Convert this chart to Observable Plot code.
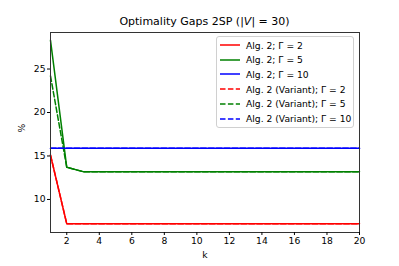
<!DOCTYPE html>
<html><head><meta charset="utf-8">
<script src="https://cdn.jsdelivr.net/npm/d3@7"></script>
<script src="https://cdn.jsdelivr.net/npm/@observablehq/plot@0.6"></script>
<style>
body{margin:0;background:#fff;font-family:"DejaVu Sans",sans-serif;}
#wrap{position:relative;width:399px;height:266px;}
#legend{position:absolute;left:216px;top:36px;width:136px;height:90px;border:1px solid #d0d0d0;border-radius:3px;background:rgba(255,255,255,0.8);font-size:9.2px;color:#000;}
.row{position:absolute;left:0;height:14px;display:flex;align-items:center;white-space:nowrap;}
.row svg{margin-left:3px;margin-right:6px;}
</style></head>
<body><div id="wrap"><div id="legend"></div></div>
<script>
const k = [1,2,3,4,5,6,7,8,9,10,11,12,13,14,15,16,17,18,19,20];
const alg2_g2  = [15.1,7.2,7.2,7.2,7.2,7.2,7.2,7.2,7.2,7.2,7.2,7.2,7.2,7.2,7.2,7.2,7.2,7.2,7.2,7.2];
const alg2_g5  = [28.3,13.7,13.2,13.2,13.2,13.2,13.2,13.2,13.2,13.2,13.2,13.2,13.2,13.2,13.2,13.2,13.2,13.2,13.2,13.2];
const alg2_g10 = [15.9,15.9,15.9,15.9,15.9,15.9,15.9,15.9,15.9,15.9,15.9,15.9,15.9,15.9,15.9,15.9,15.9,15.9,15.9,15.9];
const var_g2   = [15.1,7.2,7.2,7.2,7.2,7.2,7.2,7.2,7.2,7.2,7.2,7.2,7.2,7.2,7.2,7.2,7.2,7.2,7.2,7.2];
const var_g5   = [24.2,13.7,13.2,13.2,13.2,13.2,13.2,13.2,13.2,13.2,13.2,13.2,13.2,13.2,13.2,13.2,13.2,13.2,13.2,13.2];
const var_g10  = [15.9,15.9,15.9,15.9,15.9,15.9,15.9,15.9,15.9,15.9,15.9,15.9,15.9,15.9,15.9,15.9,15.9,15.9,15.9,15.9];
const seriesNames = ["Alg. 2; Γ = 2","Alg. 2; Γ = 5","Alg. 2; Γ = 10","Alg. 2 (Variant); Γ = 2","Alg. 2 (Variant); Γ = 5","Alg. 2 (Variant); Γ = 10"];
const seriesValues = [alg2_g2, alg2_g5, alg2_g10, var_g2, var_g5, var_g10];
const seriesColors = ["#ff0000","#008000","#0000ff","#ff0000","#008000","#0000ff"];
const seriesDashed = [false,false,false,true,true,true];
const xTicks = [2,4,6,8,10,12,14,16,18,20];
const yTicks = [10,15,20,25];

const marks = [];
seriesValues.forEach((vals,i)=>{
  const data = k.map((kk,j)=>({k:kk,v:vals[j]}));
  marks.push(Plot.line(data,{x:"k",y:"v",stroke:seriesColors[i],strokeWidth:1.5,strokeDasharray:seriesDashed[i]?"5.5,2.4":null}));
});
marks.push(Plot.frame({stroke:"#333",strokeWidth:1}));
marks.push(Plot.axisX({ticks:xTicks,tickSize:3,tickPadding:2,fontSize:9.2,label:null}));
marks.push(Plot.axisY({ticks:yTicks,tickSize:3,tickPadding:2,fontSize:9.2,label:null}));
marks.push(Plot.text(["k"],{frameAnchor:"bottom",dy:25,fontSize:9.2,textAnchor:"middle"}));
marks.push(Plot.text(["%"],{frameAnchor:"left",dx:-28,rotate:-90,fontSize:9.2}));

const svg = Plot.plot({
  width:399,height:266,
  marginLeft:50,marginRight:40,marginTop:32,marginBottom:34,
  x:{domain:[1,20]},
  y:{domain:[6.2,29.2]},
  style:{fontFamily:"DejaVu Sans",fontSize:"9.2px",color:"#000",background:"#fff"},
  marks
});
// title
const ns="http://www.w3.org/2000/svg";
const t=document.createElementNS(ns,"text");
t.setAttribute("x",204.5);t.setAttribute("y",25);t.setAttribute("text-anchor","middle");
t.setAttribute("font-size","11px");t.setAttribute("font-family","DejaVu Sans");
t.innerHTML='Optimality Gaps 2SP (|<tspan font-style="italic">V</tspan>| = 30)';
svg.appendChild(t);
document.getElementById("wrap").prepend(svg);

const leg=document.getElementById("legend");
seriesNames.forEach((n,i)=>{
  const r=document.createElement("div");r.className="row";r.style.top=(1+i*14.7)+"px";
  r.innerHTML=`<svg width="20" height="6"><line x1="0" x2="20" y1="3" y2="3" stroke="${seriesColors[i]}" stroke-width="1.5" ${seriesDashed[i]?'stroke-dasharray="5.5,2.4"':''}/></svg><span>${n}</span>`;
  leg.appendChild(r);
});
</script></body></html>
